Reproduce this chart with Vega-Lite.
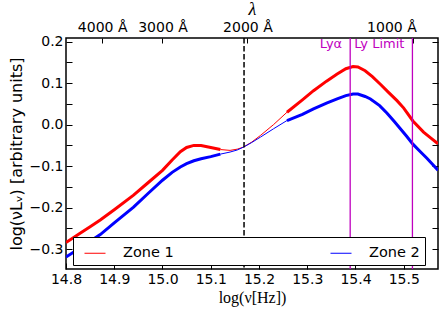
{
  "$schema": "https://vega.github.io/schema/vega-lite/v6.json",
  "width": 372,
  "height": 231,
  "autosize": {"type": "none"},
  "padding": {"left": 66, "top": 38, "right": 5, "bottom": 43},
  "background": "white",
  "config": {
    "view": {"stroke": "black", "strokeWidth": 1.5},
    "font": "DejaVu Sans",
    "axis": {"grid": false, "domain": false, "labelFlush": false, "labelOverlap": false, "labelFont": "DejaVu Sans", "labelFontSize": 14, "labelColor": "black", "tickColor": "black", "titleColor": "black"}
  },
  "datasets": {
    "curves": [
      {"zone": "Zone 1", "seg": "a", "kind": "model", "nu": 14.80, "lum": -0.284},
      {"zone": "Zone 1", "seg": "a", "kind": "model", "nu": 14.83, "lum": -0.261},
      {"zone": "Zone 1", "seg": "a", "kind": "model", "nu": 14.85, "lum": -0.246},
      {"zone": "Zone 1", "seg": "a", "kind": "model", "nu": 14.871, "lum": -0.230},
      {"zone": "Zone 1", "seg": "a", "kind": "model", "nu": 14.90, "lum": -0.205},
      {"zone": "Zone 1", "seg": "a", "kind": "model", "nu": 14.94, "lum": -0.170},
      {"zone": "Zone 1", "seg": "a", "kind": "model", "nu": 14.97, "lum": -0.140},
      {"zone": "Zone 1", "seg": "a", "kind": "model", "nu": 15.00, "lum": -0.110},
      {"zone": "Zone 1", "seg": "a", "kind": "model", "nu": 15.02, "lum": -0.085},
      {"zone": "Zone 1", "seg": "a", "kind": "model", "nu": 15.037, "lum": -0.065},
      {"zone": "Zone 1", "seg": "a", "kind": "model", "nu": 15.05, "lum": -0.055},
      {"zone": "Zone 1", "seg": "a", "kind": "model", "nu": 15.065, "lum": -0.050},
      {"zone": "Zone 1", "seg": "a", "kind": "model", "nu": 15.08, "lum": -0.050},
      {"zone": "Zone 1", "seg": "a", "kind": "model", "nu": 15.10, "lum": -0.055},
      {"zone": "Zone 1", "seg": "a", "kind": "model", "nu": 15.12, "lum": -0.060},
      {"zone": "Zone 1", "seg": "b", "kind": "bridge", "nu": 15.12, "lum": -0.060},
      {"zone": "Zone 1", "seg": "b", "kind": "bridge", "nu": 15.14, "lum": -0.062},
      {"zone": "Zone 1", "seg": "b", "kind": "bridge", "nu": 15.155, "lum": -0.059},
      {"zone": "Zone 1", "seg": "b", "kind": "bridge", "nu": 15.168, "lum": -0.054},
      {"zone": "Zone 1", "seg": "b", "kind": "bridge", "nu": 15.185, "lum": -0.042},
      {"zone": "Zone 1", "seg": "b", "kind": "bridge", "nu": 15.203, "lum": -0.026},
      {"zone": "Zone 1", "seg": "b", "kind": "bridge", "nu": 15.23, "lum": 0.000},
      {"zone": "Zone 1", "seg": "b", "kind": "bridge", "nu": 15.258, "lum": 0.030},
      {"zone": "Zone 1", "seg": "c", "kind": "model", "nu": 15.258, "lum": 0.030},
      {"zone": "Zone 1", "seg": "c", "kind": "model", "nu": 15.29, "lum": 0.060},
      {"zone": "Zone 1", "seg": "c", "kind": "model", "nu": 15.313, "lum": 0.082},
      {"zone": "Zone 1", "seg": "c", "kind": "model", "nu": 15.34, "lum": 0.105},
      {"zone": "Zone 1", "seg": "c", "kind": "model", "nu": 15.362, "lum": 0.122},
      {"zone": "Zone 1", "seg": "c", "kind": "model", "nu": 15.38, "lum": 0.135},
      {"zone": "Zone 1", "seg": "c", "kind": "model", "nu": 15.395, "lum": 0.140},
      {"zone": "Zone 1", "seg": "c", "kind": "model", "nu": 15.405, "lum": 0.139},
      {"zone": "Zone 1", "seg": "c", "kind": "model", "nu": 15.42, "lum": 0.130},
      {"zone": "Zone 1", "seg": "c", "kind": "model", "nu": 15.435, "lum": 0.116},
      {"zone": "Zone 1", "seg": "c", "kind": "model", "nu": 15.451, "lum": 0.098},
      {"zone": "Zone 1", "seg": "c", "kind": "model", "nu": 15.47, "lum": 0.076},
      {"zone": "Zone 1", "seg": "c", "kind": "model", "nu": 15.486, "lum": 0.058},
      {"zone": "Zone 1", "seg": "c", "kind": "model", "nu": 15.50, "lum": 0.040},
      {"zone": "Zone 1", "seg": "c", "kind": "model", "nu": 15.519, "lum": 0.009},
      {"zone": "Zone 1", "seg": "c", "kind": "model", "nu": 15.541, "lum": -0.018},
      {"zone": "Zone 1", "seg": "c", "kind": "model", "nu": 15.557, "lum": -0.033},
      {"zone": "Zone 1", "seg": "c", "kind": "model", "nu": 15.571, "lum": -0.046},
      {"zone": "Zone 2", "seg": "a", "kind": "model", "nu": 14.80, "lum": -0.319},
      {"zone": "Zone 2", "seg": "a", "kind": "model", "nu": 14.83, "lum": -0.297},
      {"zone": "Zone 2", "seg": "a", "kind": "model", "nu": 14.85, "lum": -0.281},
      {"zone": "Zone 2", "seg": "a", "kind": "model", "nu": 14.871, "lum": -0.265},
      {"zone": "Zone 2", "seg": "a", "kind": "model", "nu": 14.90, "lum": -0.237},
      {"zone": "Zone 2", "seg": "a", "kind": "model", "nu": 14.94, "lum": -0.199},
      {"zone": "Zone 2", "seg": "a", "kind": "model", "nu": 14.97, "lum": -0.166},
      {"zone": "Zone 2", "seg": "a", "kind": "model", "nu": 15.00, "lum": -0.134},
      {"zone": "Zone 2", "seg": "a", "kind": "model", "nu": 15.02, "lum": -0.115},
      {"zone": "Zone 2", "seg": "a", "kind": "model", "nu": 15.037, "lum": -0.102},
      {"zone": "Zone 2", "seg": "a", "kind": "model", "nu": 15.05, "lum": -0.094},
      {"zone": "Zone 2", "seg": "a", "kind": "model", "nu": 15.065, "lum": -0.087},
      {"zone": "Zone 2", "seg": "a", "kind": "model", "nu": 15.08, "lum": -0.082},
      {"zone": "Zone 2", "seg": "a", "kind": "model", "nu": 15.10, "lum": -0.077},
      {"zone": "Zone 2", "seg": "a", "kind": "model", "nu": 15.12, "lum": -0.071},
      {"zone": "Zone 2", "seg": "b", "kind": "bridge", "nu": 15.12, "lum": -0.071},
      {"zone": "Zone 2", "seg": "b", "kind": "bridge", "nu": 15.14, "lum": -0.066},
      {"zone": "Zone 2", "seg": "b", "kind": "bridge", "nu": 15.155, "lum": -0.061},
      {"zone": "Zone 2", "seg": "b", "kind": "bridge", "nu": 15.168, "lum": -0.054},
      {"zone": "Zone 2", "seg": "b", "kind": "bridge", "nu": 15.185, "lum": -0.043},
      {"zone": "Zone 2", "seg": "b", "kind": "bridge", "nu": 15.203, "lum": -0.030},
      {"zone": "Zone 2", "seg": "b", "kind": "bridge", "nu": 15.23, "lum": -0.010},
      {"zone": "Zone 2", "seg": "b", "kind": "bridge", "nu": 15.258, "lum": 0.010},
      {"zone": "Zone 2", "seg": "c", "kind": "model", "nu": 15.258, "lum": 0.010},
      {"zone": "Zone 2", "seg": "c", "kind": "model", "nu": 15.29, "lum": 0.025},
      {"zone": "Zone 2", "seg": "c", "kind": "model", "nu": 15.313, "lum": 0.038},
      {"zone": "Zone 2", "seg": "c", "kind": "model", "nu": 15.34, "lum": 0.052},
      {"zone": "Zone 2", "seg": "c", "kind": "model", "nu": 15.362, "lum": 0.062},
      {"zone": "Zone 2", "seg": "c", "kind": "model", "nu": 15.38, "lum": 0.070},
      {"zone": "Zone 2", "seg": "c", "kind": "model", "nu": 15.395, "lum": 0.074},
      {"zone": "Zone 2", "seg": "c", "kind": "model", "nu": 15.405, "lum": 0.074},
      {"zone": "Zone 2", "seg": "c", "kind": "model", "nu": 15.42, "lum": 0.068},
      {"zone": "Zone 2", "seg": "c", "kind": "model", "nu": 15.431, "lum": 0.062},
      {"zone": "Zone 2", "seg": "c", "kind": "model", "nu": 15.45, "lum": 0.046},
      {"zone": "Zone 2", "seg": "c", "kind": "model", "nu": 15.465, "lum": 0.028},
      {"zone": "Zone 2", "seg": "c", "kind": "model", "nu": 15.48, "lum": 0.008},
      {"zone": "Zone 2", "seg": "c", "kind": "model", "nu": 15.493, "lum": -0.010},
      {"zone": "Zone 2", "seg": "c", "kind": "model", "nu": 15.506, "lum": -0.028},
      {"zone": "Zone 2", "seg": "c", "kind": "model", "nu": 15.519, "lum": -0.047},
      {"zone": "Zone 2", "seg": "c", "kind": "model", "nu": 15.535, "lum": -0.066},
      {"zone": "Zone 2", "seg": "c", "kind": "model", "nu": 15.548, "lum": -0.081},
      {"zone": "Zone 2", "seg": "c", "kind": "model", "nu": 15.571, "lum": -0.110}
    ],
    "lines": [
      {"name": "Lyα", "nu": 15.389, "lum": 0.186},
      {"name": "Ly Limit", "nu": 15.518, "lum": 0.186}
    ]
  },
  "resolve": {"axis": {"x": "independent", "y": "independent"}},
  "layer": [
    {
      "data": {"name": "curves"},
      "transform": [{"filter": "datum.kind == 'model'"}],
      "mark": {"type": "line", "clip": true, "strokeWidth": 3},
      "encoding": {
        "x": {"field": "nu", "type": "quantitative", "scale": {"domain": [14.8, 15.571], "nice": false, "zero": false},
          "axis": {"orient": "bottom", "values": [14.8, 14.9, 15.0, 15.1, 15.2, 15.3, 15.4, 15.5], "format": ".1f", "tickSize": -6, "tickWidth": 1, "labelPadding": 9, "title": "log(ν[Hz])", "titleFont": "Liberation Serif", "titleFontSize": 16, "titleFontWeight": "normal", "titlePadding": 3}},
        "y": {"field": "lum", "type": "quantitative", "scale": {"domain": [-0.348, 0.209], "nice": false, "zero": false},
          "axis": {"orient": "left", "values": [-0.3, -0.25, -0.2, -0.15, -0.1, -0.05, 0, 0.05, 0.1, 0.15, 0.2], "labelExpr": "(round(datum.value*20) % 2 == 0) ? (datum.value < -0.001 ? '−' + format(-datum.value, '.1f') : format(datum.value, '.1f')) : ''", "tickSize": -6, "tickWidth": 1, "labelPadding": 9, "title": "log(νLᵥ) [arbitrary units]", "titleFont": "DejaVu Sans", "titleFontSize": 16, "titleFontWeight": "normal", "titlePadding": 5}},
        "color": {"field": "zone", "type": "nominal", "scale": {"domain": ["Zone 1", "Zone 2"], "range": ["#ff0000", "#0000ff"]},
          "legend": {"orient": "none", "legendX": 7, "legendY": 199, "direction": "horizontal", "columns": 2, "title": null, "symbolType": "stroke", "symbolSize": 441, "symbolStrokeWidth": 1, "symbolOffset": 6, "labelOffset": 17, "labelFontSize": 14.5, "labelFont": "DejaVu Sans", "labelColor": "black", "columnPadding": 150, "padding": 5, "fillColor": "white", "strokeColor": "black", "cornerRadius": 0}},
        "detail": {"field": "seg", "type": "nominal"}
      }
    },
    {
      "data": {"name": "curves"},
      "transform": [{"filter": "datum.kind == 'bridge'"}],
      "mark": {"type": "line", "clip": true, "strokeWidth": 1},
      "encoding": {
        "x": {"field": "nu", "type": "quantitative", "scale": {"domain": [14.8, 15.571], "nice": false, "zero": false}, "axis": null},
        "y": {"field": "lum", "type": "quantitative", "scale": {"domain": [-0.348, 0.209], "nice": false, "zero": false}, "axis": null},
        "color": {"field": "zone", "type": "nominal", "legend": null},
        "detail": {"field": "seg", "type": "nominal"}
      }
    },
    {
      "data": {"values": [{"nu": 15.169}]},
      "mark": {"type": "rule", "color": "black", "strokeWidth": 1.5, "strokeDash": [5.5, 2.5]},
      "encoding": {
        "x": {"field": "nu", "type": "quantitative", "scale": {"domain": [14.8, 15.571], "nice": false, "zero": false},
          "axis": {"orient": "top", "values": [14.875, 15.0, 15.176, 15.52], "labelExpr": "datum.value < 14.9 ? '4000 Å' : datum.value < 15.1 ? '3000 Å' : datum.value < 15.3 ? '2000 Å' : '1000 Å'", "labelOffset": {"condition": {"test": "datum.value > 15.5", "value": -22}, "value": 0}, "tickSize": -5, "tickWidth": 1, "labelPadding": 9, "title": "λ", "titleFont": "Liberation Serif", "titleFontStyle": "italic", "titleFontSize": 18, "titleFontWeight": "normal", "titlePadding": 2}}
      }
    },
    {
      "data": {"name": "lines"},
      "mark": {"type": "rule", "color": "#bf00bf", "strokeWidth": 1.3},
      "encoding": {
        "x": {"field": "nu", "type": "quantitative", "scale": {"domain": [14.8, 15.571], "nice": false, "zero": false}, "axis": null}
      }
    },
    {
      "data": {"name": "lines"},
      "mark": {"type": "text", "color": "#bf00bf", "align": "right", "baseline": "alphabetic", "dx": -8, "fontSize": 13, "font": "DejaVu Sans"},
      "encoding": {
        "x": {"field": "nu", "type": "quantitative", "scale": {"domain": [14.8, 15.571], "nice": false, "zero": false}, "axis": null},
        "y": {"field": "lum", "type": "quantitative", "scale": {"domain": [-0.348, 0.209], "nice": false, "zero": false},
          "axis": {"orient": "right", "values": [-0.3, -0.25, -0.2, -0.15, -0.1, -0.05, 0, 0.05, 0.1, 0.15, 0.2], "labels": false, "tickSize": -6, "tickWidth": 1, "title": null}},
        "text": {"field": "name", "type": "nominal"}
      }
    }
  ]
}
